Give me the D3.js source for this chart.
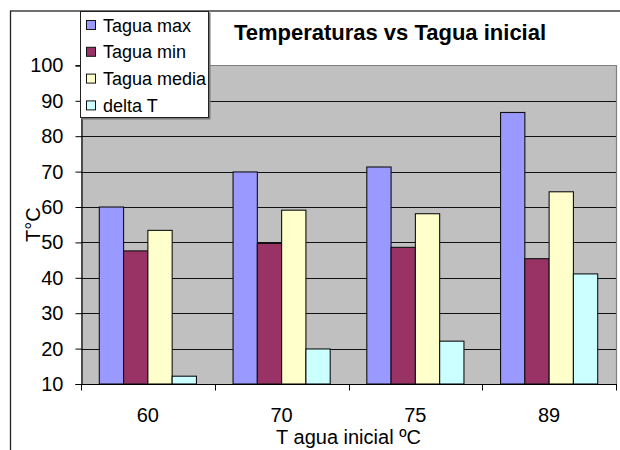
<!DOCTYPE html>
<html>
<head>
<meta charset="utf-8">
<script src="https://cdn.jsdelivr.net/npm/d3@7"></script>
<style>
  html, body { margin: 0; padding: 0; background: #fff; }
  svg { display: block; font-family: "Liberation Sans", Arial, sans-serif; }
</style>
</head>
<body>
<svg id="chart" width="620" height="450"></svg>
<script>
// Initial water temperature groups (ºC)
const categories = ["60", "70", "75", "89"];
const seriesNames = ["Tagua max", "Tagua min", "Tagua media", "delta T"];
const taguaMax   = [60.0, 69.9, 71.3, 86.7];
const taguaMin   = [47.6, 49.7, 48.6, 45.4];
const taguaMedia = [53.4, 59.1, 58.1, 64.3];
const deltaT     = [12.2, 19.9, 22.1, 41.1];
const yTicks = [10, 20, 30, 40, 50, 60, 70, 80, 90, 100];
const colors = ["#9999FF", "#993366", "#FFFFCC", "#CCFFFF"];

const seriesValues = [taguaMax, taguaMin, taguaMedia, deltaT];
const rows = categories.map((c, i) => ({
  cat: c,
  vals: seriesNames.map((s, j) => ({ name: s, value: seriesValues[j][i], color: colors[j] }))
}));

const svg = d3.select("#chart");
const plot = { left: 81, right: 616, top: 65.4, bottom: 384 };

// Outer chart frame (runs past the right and bottom edges)
svg.append("rect")
  .attr("x", 10.5).attr("y", 11).attr("width", 700).attr("height", 500)
  .attr("fill", "#fff").attr("stroke", "#222").attr("stroke-width", 1.3);

const x0 = d3.scaleBand().domain(categories).range([plot.left, plot.right]).padding(0);
const bw = x0.bandwidth();
const x1 = d3.scaleBand().domain(seriesNames).range([18.3, bw - 18.3]).padding(0);
const y = d3.scaleLinear().domain([10, 100]).range([plot.bottom, plot.top]);

// Plot background
svg.append("rect")
  .attr("x", plot.left).attr("y", plot.top)
  .attr("width", plot.right - plot.left).attr("height", plot.bottom - plot.top)
  .attr("fill", "#C0C0C0");

// Horizontal gridlines
svg.append("g").selectAll("line")
  .data(yTicks.filter(t => t > 10 && t < 100))
  .join("line")
  .attr("x1", plot.left).attr("x2", plot.right)
  .attr("y1", d => Math.round(y(d)) + 0.5).attr("y2", d => Math.round(y(d)) + 0.5)
  .attr("stroke", "#111").attr("stroke-width", 1);

// Top and right plot border
svg.append("path")
  .attr("d", `M${plot.left},${Math.round(plot.top) + 0.5}H${plot.right + 0.5}V${plot.bottom}`)
  .attr("fill", "none").attr("stroke", "#808080").attr("stroke-width", 1.2);

// Bars
const groups = svg.append("g").selectAll("g")
  .data(rows).join("g")
  .attr("transform", d => `translate(${x0(d.cat)},0)`);

groups.selectAll("rect")
  .data(d => d.vals).join("rect")
  .attr("x", d => x1(d.name))
  .attr("y", d => y(d.value))
  .attr("width", x1.bandwidth())
  .attr("height", d => y(10) - y(d.value))
  .attr("fill", d => d.color)
  .attr("stroke", "#111").attr("stroke-width", 1.1);

// Y axis
const yAxis = d3.axisLeft(y).tickValues(yTicks).tickSize(6).tickPadding(12).tickFormat(d3.format("d"));
const gy = svg.append("g").attr("transform", `translate(${plot.left + 0.5},0)`).call(yAxis);
gy.select(".domain").attr("stroke", "#000").attr("stroke-width", 1.2);
gy.selectAll(".tick line").attr("stroke", "#000");
gy.selectAll(".tick text").attr("font-size", 20).attr("fill", "#000")
  .attr("font-family", "Liberation Sans, Arial, sans-serif");

// X axis: ticks sit on the category boundaries
const gx = svg.append("g").attr("transform", `translate(0,${plot.bottom + 0.5})`);
gx.append("line").attr("x1", plot.left).attr("x2", plot.right + 1)
  .attr("y1", 0).attr("y2", 0).attr("stroke", "#000").attr("stroke-width", 1.2);
const boundaries = categories.map(c => x0(c)).concat([x0(categories[categories.length - 1]) + bw]);
gx.selectAll("line.tk").data(boundaries).join("line").attr("class", "tk")
  .attr("x1", d => Math.round(d) + 0.5).attr("x2", d => Math.round(d) + 0.5)
  .attr("y1", 0).attr("y2", 6).attr("stroke", "#000");
gx.selectAll("text").data(categories).join("text")
  .attr("x", d => x0(d) + bw / 2).attr("y", 37)
  .attr("text-anchor", "middle").attr("font-size", 20).attr("fill", "#000")
  .text(d => d);

// Axis titles
svg.append("text")
  .attr("x", (plot.left + plot.right) / 2).attr("y", 444)
  .attr("text-anchor", "middle").attr("font-size", 20).attr("fill", "#000")
  .text("T agua inicial ºC");

svg.append("text")
  .attr("transform", `translate(40,${(plot.top + plot.bottom) / 2}) rotate(-90)`)
  .attr("text-anchor", "middle").attr("font-size", 20).attr("fill", "#000")
  .text("T°C");

// Title
svg.append("text")
  .attr("x", 390).attr("y", 40)
  .attr("text-anchor", "middle").attr("font-size", 22).attr("font-weight", "bold").attr("fill", "#000")
  .text("Temperaturas vs Tagua inicial");

// Legend
const legend = svg.append("g");
legend.append("rect")
  .attr("x", 81.5).attr("y", 12.5).attr("width", 129).attr("height", 107)
  .attr("fill", "#777");
legend.append("rect")
  .attr("x", 80.5).attr("y", 11.5).attr("width", 128).attr("height", 106)
  .attr("fill", "#fff").attr("stroke", "#222").attr("stroke-width", 1);
const items = legend.selectAll("g.item").data(seriesNames).join("g").attr("class", "item")
  .attr("transform", (d, i) => `translate(0,${25 + i * 26.8})`);
items.append("rect")
  .attr("x", 86.5).attr("y", -4.5).attr("width", 9).attr("height", 9)
  .attr("fill", (d, i) => colors[i]).attr("stroke", "#111").attr("stroke-width", 1);
items.append("text")
  .attr("x", 103).attr("y", 6.5).attr("font-size", 18).attr("fill", "#000")
  .text(d => d);
</script>
</body>
</html>
